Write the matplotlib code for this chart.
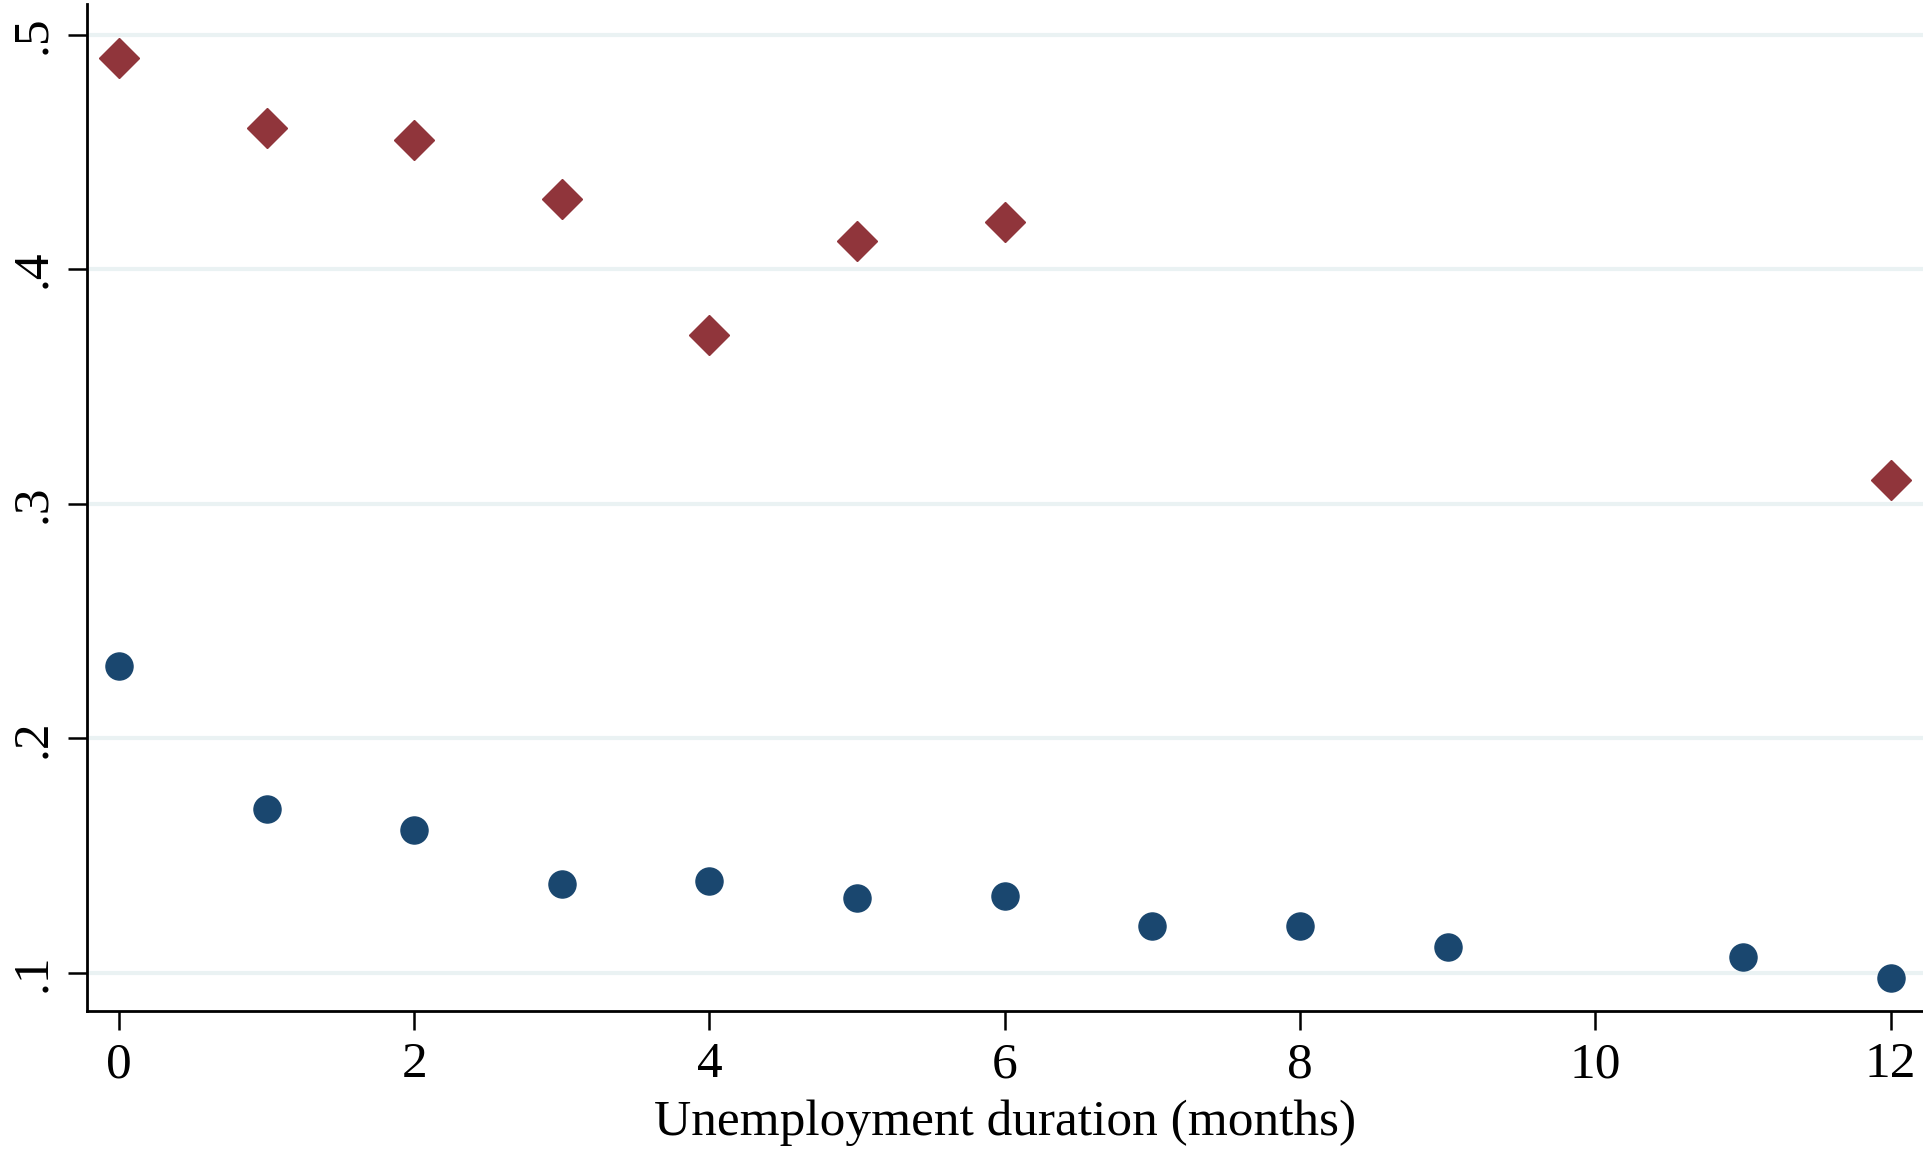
import numpy as np
import matplotlib.pyplot as plt

# dados
meses_d = [0, 1, 2, 3, 4, 5, 6, 12]
taxa_d = [0.490, 0.460, 0.455, 0.430, 0.372, 0.412, 0.420, 0.310]

meses_c = [0, 1, 2, 3, 4, 5, 6, 7, 8, 9, 11, 12]
taxa_c = [0.231, 0.170, 0.161, 0.138, 0.139, 0.132, 0.133, 0.120, 0.120, 0.111, 0.107, 0.098]

yticks = [0.1, 0.2, 0.3, 0.4, 0.5]
ylabels = ['.1', '.2', '.3', '.4', '.5']
xticks = [0, 2, 4, 6, 8, 10, 12]

plt.rcParams['font.family'] = ['Liberation Serif', 'DejaVu Serif']

fig = plt.figure(figsize=(19.23, 11.49), dpi=100)
ax = fig.add_axes([0.0452, 0.1201, 0.9548, 0.8764])

for y in yticks:
    ax.axhline(y, color='#eaf2f3', linewidth=3, zorder=0)

ax.plot(meses_d, taxa_d, ls='none', marker='D', markersize=20.5, color='#90353b', zorder=3)
ax.plot(meses_c, taxa_c, ls='none', marker='o', markersize=19.5, color='#1a476f', zorder=3)

ax.set_xlim(-0.217, 12.22)
ax.set_ylim(0.0838, 0.513)
ax.set_xticks(xticks)
ax.set_yticks(yticks)
ax.set_yticklabels(ylabels, rotation=90, va='center')

for s in ['top', 'right']:
    ax.spines[s].set_visible(False)
for s in ['left', 'bottom']:
    ax.spines[s].set_linewidth(2)

ax.tick_params(axis='both', length=14, width=1.8, labelsize=37, pad=8)
ax.set_xlabel('Unemployment duration (months)', fontsize=37, labelpad=8)

fig.savefig('out.png', dpi=100)
